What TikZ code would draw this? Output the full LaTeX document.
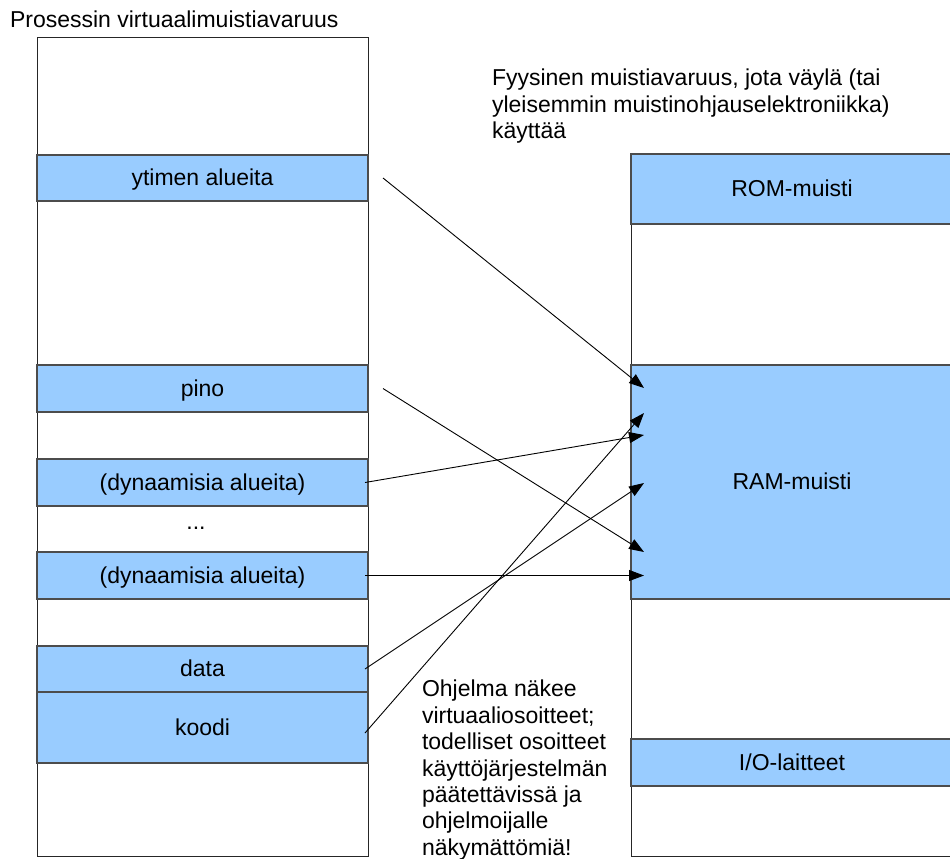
\documentclass[tikz,border=0pt]{standalone}
\usepackage{fontspec}
\setmainfont{Liberation Sans}
\usetikzlibrary{arrows.meta}
\definecolor{bandblue}{HTML}{99CCFF}
\begin{document}
\begin{tikzpicture}[x=1pt,y=-1pt,
  every node/.style={inner sep=0pt, outer sep=0pt, font=\fontsize{23}{26.45}\selectfont},
  memcol/.style={draw=black!85, line width=1pt, fill=white, anchor=north west},
  band/.style={draw=black!70, line width=1.4pt, fill=bandblue, anchor=north west,
               text height=17pt, text depth=2pt},
  lefts/.style={minimum width=331pt},
  rights/.style={minimum width=322pt},
  note/.style={anchor=north west, align=left},
  maparrow/.style={line width=0.9pt, -{Triangle[length=15pt,width=11pt]}}
]
\useasboundingbox (0,0) rectangle (950,859);

% virtual address space of the process
\node[anchor=base west] (vtitle) at (10,28) {Prosessin virtuaalimuistiavaruus};
\node[memcol, lefts, minimum height=818pt] (vmem) at (37,38) {};
\node[band, lefts, minimum height=46pt] (ytim)  at (37,155) {ytimen alueita};
\node[band, lefts, minimum height=47pt] (pino)  at (37,365) {pino};
\node[band, lefts, minimum height=47pt] (dyn1)  at (37,459) {(dynaamisia alueita)};
\node[anchor=base] (dots) at (196,529) {...};
\node[band, lefts, minimum height=47pt] (dyn2)  at (37,552) {(dynaamisia alueita)};
\node[band, lefts, minimum height=46pt] (data)  at (37,646) {data};
\node[band, lefts, minimum height=71pt] (koodi) at (37,692) {koodi};

% physical address space
\node[note] (ptitle) at (492,69) {Fyysinen muistiavaruus, jota väylä (tai\\yleisemmin muistinohjauselektroniikka)\\käyttää};
\node[memcol, rights, minimum height=702pt] (pmem) at (631,154) {};
\node[band, rights, minimum height=70pt]  (rom) at (631,154) {ROM-muisti};
\node[band, rights, minimum height=234pt] (ram) at (631,365) {RAM-muisti};
\node[band, rights, minimum height=47pt]  (io)  at (631,739) {I/O-laitteet};

% note
\node[note] (remark) at (422,680) {Ohjelma näkee\\virtuaaliosoitteet;\\todelliset osoitteet\\käyttöjärjestelmän\\päätettävissä ja\\ohjelmoijalle\\näkymättömiä!};

% arrow targets inside the RAM
\coordinate (t1) at (644,388);
\coordinate (t2) at (644,552);
\coordinate (t3) at (644,435);
\coordinate (t4) at (644,575.5);
\coordinate (t5) at (644,483);
\coordinate (t6) at (644,413);

% mappings
\draw[maparrow] ([xshift=15pt]ytim.east) -- (t1);
\draw[maparrow] ([xshift=15pt]pino.east) -- (t2);
\draw[maparrow] ([xshift=-3pt]dyn1.east) -- (t3);
\draw[maparrow] ([xshift=-3pt]dyn2.east) -- (t4);
\draw[maparrow] ([xshift=-3pt]data.east) -- (t5);
\draw[maparrow] ([xshift=-3pt,yshift=-5.5pt]koodi.east) -- (t6);
\end{tikzpicture}
\end{document}
